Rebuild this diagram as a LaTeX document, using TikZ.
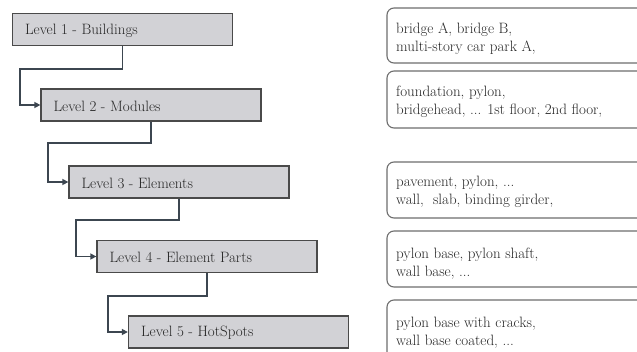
\documentclass[tikz,border=0pt]{standalone}
\usetikzlibrary{arrows.meta,calc}
\definecolor{boxfill}{HTML}{D2D2D6}
\definecolor{boxline}{HTML}{4A4A4A}
\definecolor{connline}{HTML}{3C4650}
\definecolor{rline}{HTML}{6E6E6E}
\tikzset{
  level/.style={draw=boxline, line width=1.3pt, fill=boxfill, minimum width=220pt, minimum height=32pt, inner sep=0pt},
  lvltext/.style={anchor=west, inner sep=0pt, font=\fontsize{15}{18}\selectfont, text=black!85},
  conn/.style={draw=connline, line width=1.8pt, -{Triangle[length=6pt,width=6pt]}},
  rbox/.style={draw=rline, line width=1.1pt, rounded corners=7pt, fill=white},
  rtext/.style={anchor=base west, inner sep=0pt, align=left, font=\fontsize{15}{18}\selectfont, text=black!85}
}
\begin{document}
\begin{tikzpicture}[x=1pt,y=-1pt]
\clip (0,0) rectangle (637,351);
\fill[white] (0,0) rectangle (637,351);
% left level boxes
\node[level] (b1) at (122.5,29.5) {};
\node[level] (b2) at (151,105) {};
\node[level] (b3) at (179,182) {};
\node[level] (b4) at (207,256.5) {};
\node[level] (b5) at (238.5,332) {};
\node[lvltext] (l1) at ($(b1.west)+(13,1)$) {Level 1 - Buildings};
\node[lvltext] (l2) at ($(b2.west)+(13,1)$) {Level 2 - Modules};
\node[lvltext] (l3) at ($(b3.west)+(13,1)$) {Level 3 - Elements};
\node[lvltext] (l4) at ($(b4.west)+(13,1)$) {Level 4 - Element Parts};
\node[lvltext] (l5) at ($(b5.west)+(13,1)$) {Level 5 - HotSpots};
% connectors
\draw[conn] (b1.south) -- ++(0,22.5) -| ($(b2.west)+(-20,0)$) -- (b2.west);
\draw[conn] (b2.south) -- ++(0,21.5) -| ($(b3.west)+(-20,0)$) -- (b3.west);
\draw[conn] (b3.south) -- ++(0,21.5) -| ($(b4.west)+(-20,0)$) -- (b4.west);
\draw[conn] (b4.south) -- ++(0,22.5) -| ($(b5.west)+(-20,0)$) -- (b5.west);
% right description boxes
\draw[rbox] (387,8) rectangle (660,63);
\draw[rbox] (387,71) rectangle (660,128);
\draw[rbox] (387,162) rectangle (660,218);
\draw[rbox] (387,231) rectangle (660,287);
\draw[rbox] (387,300) rectangle (660,372);
\node[rtext] (t1) at (396,51.5) {bridge A, bridge B,\\multi-story car park A,};
\node[rtext] (t2) at (396,114) {foundation, pylon,\\bridgehead, ... 1st floor, 2nd floor,};
\node[rtext] (t3) at (396,204) {pavement, pylon, ...\\wall,\ \ slab, binding girder,};
\node[rtext] (t4) at (396,276) {pylon base, pylon shaft,\\wall base, ...};
\node[rtext] (t5) at (396,345) {pylon base with cracks,\\wall base coated, ...};
\end{tikzpicture}
\end{document}
